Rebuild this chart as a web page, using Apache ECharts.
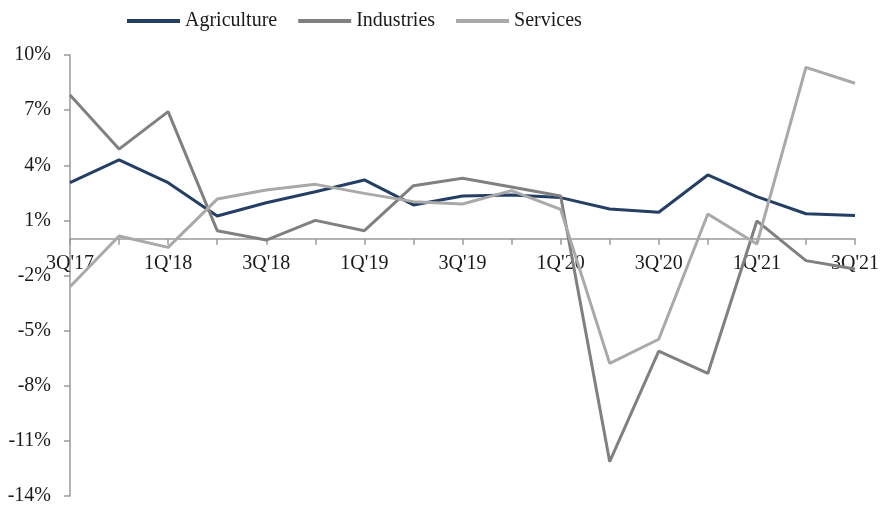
<!DOCTYPE html>
<html>
<head>
<meta charset="utf-8">
<script src="https://cdn.jsdelivr.net/npm/echarts@6/dist/echarts.min.js"></script>
<style>html,body{margin:0;padding:0;background:#fff}#c{width:880px;height:506px}</style>
</head>
<body>
<div id="c"></div>
<script>
const categories = ["3Q'17","4Q'17","1Q'18","2Q'18","3Q'18","4Q'18","1Q'19","2Q'19","3Q'19","4Q'19","1Q'20","2Q'20","3Q'20","4Q'20","1Q'21","2Q'21","3Q'21"];
const agriculture = [3.05, 4.29, 3.05, 1.24, 1.96, 2.56, 3.2, 1.84, 2.33, 2.38, 2.24, 1.62, 1.44, 3.47, 2.29, 1.36, 1.26];
const industries = [7.82, 4.88, 6.92, 0.44, -0.07, 1.0, 0.44, 2.89, 3.29, 2.82, 2.33, -12.13, -6.11, -7.33, 0.97, -1.19, -1.65];
const services = [-2.61, 0.15, -0.47, 2.16, 2.65, 2.96, 2.47, 2.02, 1.89, 2.62, 1.6, -6.78, -5.47, 1.35, -0.29, 9.33, 8.46];
const yTicks = [-14, -11, -8, -5, -2, 1, 4, 7, 10];

const FONT = 'Liberation Serif';
const chart = echarts.init(document.getElementById('c'), null, {renderer: 'canvas'});
function mk(name, data, color) {
  return {
    name: name, type: 'line', data: data, symbol: 'none',
    lineStyle: {color: color, width: 3}, itemStyle: {color: color},
    animation: false
  };
}
chart.setOption({
  animation: false,
  backgroundColor: '#fff',
  legend: {
    left: 122, top: 6,
    icon: 'rect', itemWidth: 53, itemHeight: 4, itemGap: 21,
    textStyle: {fontFamily: FONT, fontSize: 20, color: '#1a1a1a'},
    data: ['Agriculture', 'Industries', 'Services']
  },
  grid: {left: 70, right: 25, top: 55, bottom: 10, outerBoundsMode: 'none', containLabel: false},
  xAxis: {
    type: 'category', data: categories, boundaryGap: false,
    axisLine: {onZero: false, lineStyle: {color: '#9a9a9a', width: 1.5}},
    axisTick: {show: true, interval: 0, length: 6, lineStyle: {color: '#9a9a9a', width: 1.5}},
    axisLabel: {interval: 1, margin: 15, fontFamily: FONT, fontSize: 20, color: '#1a1a1a'},
    splitLine: {show: false}
  },
  yAxis: {
    type: 'value', min: -14, max: 10,
    axisLine: {show: true, lineStyle: {color: '#9a9a9a', width: 1.5}},
    axisTick: {show: true, length: 6, customValues: yTicks, lineStyle: {color: '#9a9a9a', width: 1.5}},
    axisLabel: {customValues: yTicks, margin: 19, fontFamily: FONT, fontSize: 20, color: '#1a1a1a',
      formatter: v => v + '%'},
    splitLine: {show: false}
  },
  series: [
    mk('Agriculture', agriculture, '#243f63'),
    mk('Industries', industries, '#808080'),
    mk('Services', services, '#a9a9a9')
  ]
});
// place the category axis on the zero line, using the value axis scale
const yZero = chart.convertToPixel({yAxisIndex: 0}, 0);
const yMin = chart.convertToPixel({yAxisIndex: 0}, -14);
chart.setOption({xAxis: {offset: -(yMin - yZero)}});
</script>
</body>
</html>
